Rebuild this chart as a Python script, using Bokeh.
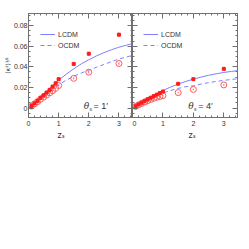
from bokeh.plotting import figure
from bokeh.models import (LinearAxis, Range1d, Label, Legend, LegendItem, FixedTicker,
                          CustomLabelingPolicy, Title)
from bokeh.layouts import row
from bokeh.embed import file_html
from bokeh.resources import INLINE

# ---------------- data ----------------
z_data = [0.1, 0.2, 0.3, 0.4, 0.5, 0.6, 0.7, 0.8, 0.9, 1.0, 1.5, 2.0, 3.0]

k1_lcdm = [0.0020, 0.0045, 0.0070, 0.0100, 0.0124, 0.0150, 0.0176, 0.0208, 0.0240, 0.0280, 0.0428, 0.0527, 0.0712]
k1_lcdm_err = [0.0004, 0.0005, 0.0005, 0.0006, 0.0006, 0.0007, 0.0007, 0.0008, 0.0008, 0.0009, 0.0012, 0.0014, 0.0016]
k1_ocdm = [0.0018, 0.0040, 0.0062, 0.0085, 0.0105, 0.0125, 0.0147, 0.0168, 0.0190, 0.0218, 0.0288, 0.0348, 0.0432]
k1_ocdm_err = [0.0003, 0.0004, 0.0004, 0.0005, 0.0005, 0.0006, 0.0006, 0.0007, 0.0007, 0.0008, 0.0010, 0.0011, 0.0012]

k4_lcdm = [0.0017, 0.0035, 0.0052, 0.0069, 0.0085, 0.0100, 0.0116, 0.0130, 0.0145, 0.0160, 0.0235, 0.0280, 0.0380]
k4_lcdm_err = [0.0003, 0.0003, 0.0004, 0.0004, 0.0005, 0.0005, 0.0005, 0.0006, 0.0006, 0.0006, 0.0008, 0.0009, 0.0011]
k4_ocdm = [0.0015, 0.0030, 0.0045, 0.0058, 0.0071, 0.0083, 0.0094, 0.0104, 0.0112, 0.0120, 0.0150, 0.0180, 0.0224]
k4_ocdm_err = [0.0003, 0.0003, 0.0003, 0.0004, 0.0004, 0.0004, 0.0005, 0.0005, 0.0005, 0.0005, 0.0006, 0.0007, 0.0008]

z_curve = [0.0, 0.25, 0.5, 0.75, 1.0, 1.25, 1.5, 1.75, 2.0, 2.25, 2.5, 2.75, 3.0, 3.25, 3.5]
c1_lcdm = [0.0, 0.0065, 0.0135, 0.0205, 0.0270, 0.0328, 0.0380, 0.0428, 0.0468, 0.0505, 0.0537, 0.0565, 0.0590, 0.0610, 0.0628]
c1_ocdm = [0.0, 0.0060, 0.0120, 0.0175, 0.0225, 0.0270, 0.0308, 0.0340, 0.0366, 0.0395, 0.0422, 0.0450, 0.0475, 0.0495, 0.0515]
c4_lcdm = [0.0, 0.0045, 0.0090, 0.0132, 0.0170, 0.0203, 0.0232, 0.0258, 0.0280, 0.0300, 0.0317, 0.0332, 0.0345, 0.0355, 0.0364]
c4_ocdm = [0.0, 0.0040, 0.0080, 0.0115, 0.0145, 0.0170, 0.0190, 0.0207, 0.0215, 0.0232, 0.0246, 0.0258, 0.0268, 0.0277, 0.0286]

x_ticks = [0, 1, 2, 3]
y_ticks = [0, 0.02, 0.04, 0.06, 0.08]
y_tick_labels = ["0", "0.02", "0.04", "0.06", "0.08"]
series_names = ["LCDM", "OCDM"]
angles = ["1\u2032", "4\u2032"]
y_title = "\u27e8\u03ba\u00b2\u27e9\u00b9\u2044\u00b2"
x_title = "z\u209b"

# ---------------- style ----------------
FONT = "Liberation Sans"
CURVE = "#7f7fff"
RED = "#ff1a1a"
RED_OPEN = "#ff5a5a"
AXIS = "#707070"
TXT = "#333333"
XR = (0, 3.45)
YR = (-0.0092, 0.0917)

X_MINOR = [i * 0.2 for i in range(0, 18)]
Y_MINOR = [-0.005 + i * 0.005 for i in range(0, 20)]


def hide_policy():
    return CustomLabelingPolicy(code="for (const i of indices) { indices.unset(i) }\nreturn indices")


def style_axis(ax, labels=True, standoff=3):
    ax.axis_line_color = AXIS
    ax.major_tick_line_color = AXIS
    ax.minor_tick_line_color = AXIS
    ax.major_tick_in = 5
    ax.major_tick_out = 0
    ax.minor_tick_in = 2
    ax.minor_tick_out = 0
    ax.major_label_text_font = FONT
    ax.major_label_text_color = TXT
    if labels:
        ax.major_label_text_font_size = "7px"
        ax.major_label_standoff = standoff
    else:
        ax.major_label_text_font_size = "0px"
        ax.major_label_policy = hide_policy()
        ax.major_label_standoff = 0


def make_panel(idx, kl, kle, ko, koe, cl, co, left_labels):
    p = figure(
        frame_width=104 if idx == 0 else 105,
        frame_height=104,
        x_range=Range1d(*XR),
        y_range=Range1d(*YR),
        output_backend="svg",
        toolbar_location=None,
        min_border_left=27 if idx == 0 else 0,
        min_border_right=0 if idx == 0 else 6,
        min_border_top=13,
        min_border_bottom=6,
        outline_line_color=AXIS,
        background_fill_color=None,
        border_fill_color="white",
    )
    p.grid.visible = False
    p.xaxis.ticker = FixedTicker(ticks=x_ticks, minor_ticks=X_MINOR)
    p.yaxis.ticker = FixedTicker(ticks=y_ticks, minor_ticks=Y_MINOR)
    style_axis(p.xaxis[0], standoff=3)
    style_axis(p.yaxis[0], labels=left_labels, standoff=1)
    if left_labels:
        p.yaxis.major_label_overrides = {t: l for t, l in zip(y_ticks, y_tick_labels)}
        p.yaxis.axis_label = y_title
        p.yaxis.axis_label_text_font = "DejaVu Sans"
        p.yaxis.axis_label_text_font_size = "6px"
        p.yaxis.axis_label_text_font_style = "normal"
        p.yaxis.axis_label_text_color = TXT
        p.yaxis.axis_label_standoff = 0
    top = LinearAxis(ticker=FixedTicker(ticks=x_ticks, minor_ticks=X_MINOR))
    style_axis(top, labels=False)
    p.add_layout(top, "above")
    right = LinearAxis(ticker=FixedTicker(ticks=y_ticks, minor_ticks=Y_MINOR))
    style_axis(right, labels=False)
    p.add_layout(right, "right")

    r_l = p.line(z_curve, cl, line_color=CURVE, line_width=1)
    r_o = p.line(z_curve, co, line_color=CURVE, line_width=1, line_dash="4 3")

    # open circles (OCDM simulations)
    p.segment(x0=z_data, y0=[a - b for a, b in zip(ko, koe)], x1=z_data,
              y1=[a + b for a, b in zip(ko, koe)], line_color=RED_OPEN, line_width=1)
    p.scatter(z_data, ko, marker="circle", size=6, fill_color=None,
              line_color=RED_OPEN, line_width=1)
    # filled points (LCDM simulations)
    p.segment(x0=z_data, y0=[a - b for a, b in zip(kl, kle)], x1=z_data,
              y1=[a + b for a, b in zip(kl, kle)], line_color=RED, line_width=1.5)
    p.scatter(z_data, kl, marker="square", size=3, fill_color=RED, line_color=RED)

    legend = Legend(items=[LegendItem(label=series_names[0], renderers=[r_l]),
                           LegendItem(label=series_names[1], renderers=[r_o])],
                    location=(12 if idx == 0 else 11, 68),
                    orientation="vertical",
                    background_fill_alpha=0, border_line_alpha=0,
                    label_text_font=FONT, label_text_font_size="7px",
                    label_text_color=TXT,
                    glyph_width=15, glyph_height=8, label_height=8,
                    label_standoff=3, spacing=3, padding=0, margin=0)
    p.add_layout(legend)

    # theta_s annotation
    tx = 1.83
    ty = -0.0030
    p.add_layout(Label(x=tx, y=ty, text="\u03b8", text_font="DejaVu Serif",
                       text_font_style="italic", text_font_size="9px", text_color=TXT))
    p.add_layout(Label(x=tx + 0.19, y=ty - 0.0012, text="s", text_font=FONT,
                       text_font_size="5px", text_color=TXT))
    p.add_layout(Label(x=tx + 0.33, y=ty, text="=  " + angles[idx], text_font=FONT,
                       text_font_size="9px", text_color=TXT))

    # x-axis title z_s, placed under the tick "1" (left) / "2" (right)
    t = Title(text=x_title, align="left", offset=29 if idx == 0 else 56,
              text_font="DejaVu Sans", text_font_size="8px", text_font_style="normal",
              text_color=TXT, standoff=0)
    p.add_layout(t, "below")
    return p


p1 = make_panel(0, k1_lcdm, k1_lcdm_err, k1_ocdm, k1_ocdm_err, c1_lcdm, c1_ocdm, True)
p2 = make_panel(1, k4_lcdm, k4_lcdm_err, k4_ocdm, k4_ocdm_err, c4_lcdm, c4_ocdm, False)

layout = row(p1, p2, spacing=0)
open("out.html", "w").write(file_html(layout, INLINE))
